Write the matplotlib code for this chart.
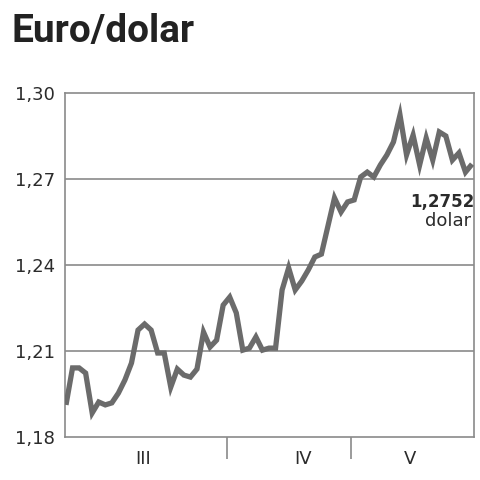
import matplotlib
matplotlib.use("Agg")
import matplotlib.pyplot as plt
from matplotlib.ticker import FixedLocator, NullFormatter, FixedFormatter

# ---- data ----
rates = [1.1912, 1.2041, 1.2041, 1.2023, 1.1884, 1.1922, 1.1912, 1.1919, 1.1953, 1.1999,
         1.2058, 1.2173, 1.2194, 1.2173, 1.2093, 1.2093, 1.1974, 1.2037, 1.2016, 1.2009,
         1.2037, 1.2166, 1.2114, 1.2138, 1.2260, 1.2288, 1.2233, 1.2103, 1.2110, 1.2149,
         1.2103, 1.2110, 1.2110, 1.2313, 1.2390, 1.2313, 1.2344, 1.2383, 1.2428, 1.2438,
         1.2536, 1.2634, 1.2585, 1.2620, 1.2627, 1.2707, 1.2724, 1.2707, 1.2749, 1.2784,
         1.2829, 1.2923, 1.2784, 1.2853, 1.2749, 1.2843, 1.2766, 1.2864, 1.2850, 1.2766,
         1.2791, 1.2724, 1.2752]
days = list(range(len(rates)))
y_ticks = [1.18, 1.21, 1.24, 1.27, 1.30]
y_tick_labels = ["1,18", "1,21", "1,24", "1,27", "1,30"]
month_labels = ["III", "IV", "V"]
month_centers = [11.8, 36.2, 52.5]
month_bounds = [24.6, 43.5]
last_label = "1,2752"
unit_label = "dolar"
title = "Euro/dolar"

W = H = 480
fig = plt.figure(figsize=(4.8, 4.8), dpi=100)
fig.patch.set_facecolor("white")
ax = fig.add_axes([65 / W, (H - 437) / H, 409 / W, 344 / H])

line_col = "#6b6b6b"
frame_col = "#8a8a8a"
text_col = "#2b2b2b"
small_font = "DejaVu Sans"

ax.plot(days, rates, color=line_col, lw=3.8, solid_joinstyle="miter", solid_capstyle="butt", zorder=3)

ax.set_xlim(-0.15, 62.3)
ax.set_ylim(1.18, 1.30)

for s in ax.spines.values():
    s.set_color(frame_col)
    s.set_linewidth(1.2)

ax.set_yticks(y_ticks)
ax.set_yticklabels(y_tick_labels)
ax.tick_params(axis="y", length=0, pad=7, labelsize=13, labelcolor=text_col)
for t in ax.get_yticklabels():
    t.set_family(small_font)
for yv in y_ticks[1:-1]:
    ax.axhline(yv, color=frame_col, lw=1.2, zorder=1)

ax.xaxis.set_major_locator(FixedLocator(month_bounds))
ax.xaxis.set_major_formatter(NullFormatter())
ax.xaxis.set_minor_locator(FixedLocator(month_centers))
ax.xaxis.set_minor_formatter(FixedFormatter(month_labels))
ax.tick_params(axis="x", which="major", length=16, width=1.2, color=frame_col, direction="out")
ax.tick_params(axis="x", which="minor", length=0, pad=9, labelsize=13, labelcolor=text_col)
for t in ax.xaxis.get_minorticklabels():
    t.set_family(small_font)

ax.annotate(last_label, xy=(days[-1], rates[-1]), xytext=(474, H - 202), textcoords="figure pixels",
            ha="right", va="center", fontsize=12, fontweight="bold", color=text_col, family=small_font)
ax.annotate(unit_label, xy=(days[-1], rates[-1]), xytext=(471, H - 221), textcoords="figure pixels",
            ha="right", va="center", fontsize=13, color=text_col, family=small_font)

fig.text(12 / W, 1 - 42 / H, title, ha="left", va="baseline", fontsize=28, fontweight="bold",
         color="#222222", family="Roboto")

fig.savefig("out.png", dpi=100, facecolor="white")
